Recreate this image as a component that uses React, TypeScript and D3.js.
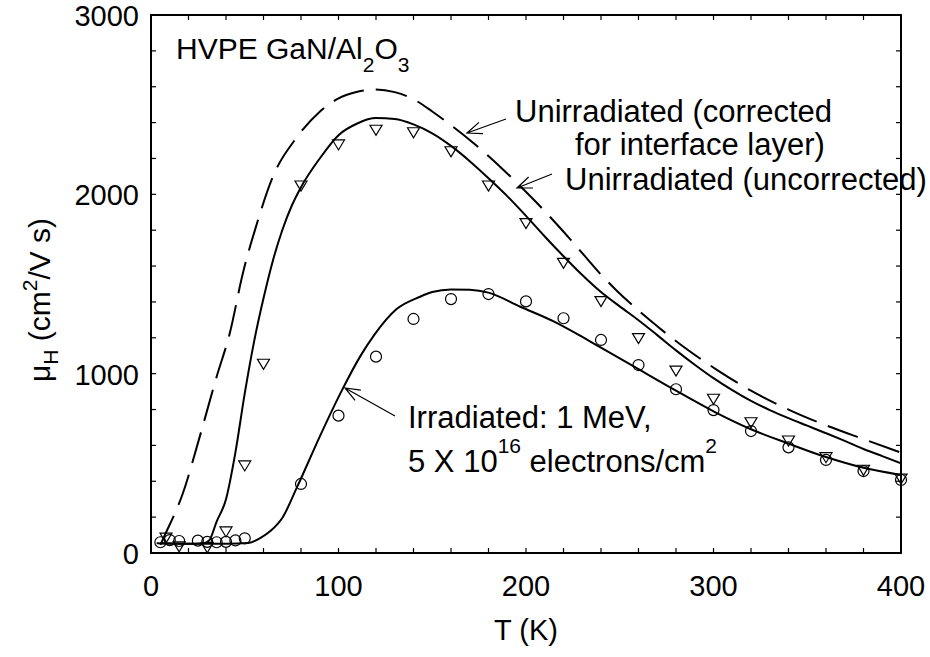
import * as d3 from "d3";
import { useEffect, useRef } from "react";

// unirradiated, corrected for interface layer (dashed)
const correctedT = [5, 7, 17, 26, 35, 42, 49, 56, 65, 78, 90, 100, 110, 120, 130, 140, 150, 160, 170, 188, 206, 224, 241, 248, 266, 284, 302, 320, 340, 360, 380, 400];
const correctedMu = [45, 91, 333, 649, 983, 1225, 1560, 1820, 2098, 2321, 2461, 2535, 2572, 2585, 2570, 2530, 2462, 2385, 2303, 2136, 1950, 1745, 1541, 1467, 1299, 1150, 1020, 905, 800, 712, 635, 560];

// unirradiated, uncorrected (solid)
const uncorrectedT = [5, 20, 28, 31, 35, 40, 45, 50, 55, 60, 65, 70, 75, 80, 90, 100, 110, 120, 130, 140, 150, 160, 170, 180, 190, 200, 210, 220, 230, 240, 250, 260, 270, 280, 290, 300, 310, 320, 330, 340, 350, 360, 370, 380, 390, 400];
const uncorrectedMu = [55, 52, 55, 70, 175, 300, 560, 890, 1180, 1420, 1630, 1800, 1935, 2040, 2200, 2330, 2395, 2425, 2420, 2390, 2340, 2270, 2185, 2090, 1990, 1880, 1765, 1655, 1550, 1455, 1375, 1298, 1215, 1130, 1050, 975, 908, 848, 797, 752, 710, 668, 625, 580, 540, 500];

// irradiated 1 MeV, 5e16 e/cm2 (solid)
const irradiatedT = [3, 20, 40, 52, 58, 64, 70, 78, 90, 101, 111.5, 119, 131, 143.5, 150, 160, 170, 180, 197, 215, 230, 240, 250, 260, 280, 300, 320, 340, 360, 380, 400];
const irradiatedMu = [54, 52, 52, 56, 82, 125, 195, 370, 649, 890, 1095, 1215, 1360, 1429, 1455, 1470, 1468, 1452, 1373, 1290, 1205, 1145, 1085, 1025, 905, 790, 690, 610, 535, 475, 435];

// measured points, unirradiated (triangles)
const triT = [8, 15, 30, 40, 50, 60, 80, 100, 120, 140, 160, 180, 200, 220, 240, 260, 280, 300, 320, 340, 360, 380, 400];
const triMu = [89, 40, 35, 123, 491, 1058, 2052, 2281, 2363, 2349, 2243, 2052, 1842, 1621, 1407, 1201, 1020, 863, 732, 630, 537, 467, 418];

// measured points, irradiated (circles)
const circT = [5, 10, 15, 25, 30, 35, 40, 45, 50, 80, 100, 120, 140, 160, 180, 200, 220, 240, 260, 280, 300, 320, 340, 360, 380, 400];
const circMu = [60, 72, 67, 69, 62, 60, 62, 70, 82, 385, 766, 1095, 1305, 1416, 1444, 1403, 1309, 1188, 1048, 913, 797, 680, 589, 519, 457, 407];

const xTickLabels = [0, 100, 200, 300, 400];
const yTickLabels = [0, 1000, 2000, 3000];

const FONT = "'Liberation Sans', Arial, Helvetica, sans-serif";

export default function App() {
    const ref = useRef<SVGSVGElement | null>(null);

    useEffect(() => {
        if (!ref.current) return;
        const svg = d3.select(ref.current);
        svg.selectAll("*").remove();

        const left = 151, right = 901, top = 15, bottom = 553;
        const x = d3.scaleLinear().domain([0, 400]).range([left, right]);
        const y = d3.scaleLinear().domain([0, 3000]).range([bottom, top]);

        const g = svg.append("g");

        // clip curves to the frame
        svg.append("defs").append("clipPath").attr("id", "plotclip")
            .append("rect").attr("x", left).attr("y", top)
            .attr("width", right - left).attr("height", bottom - top);

        const line = d3.line<[number, number]>()
            .x((d) => x(d[0]))
            .y((d) => y(d[1]))
            .curve(d3.curveMonotoneX);

        const zip = (a: number[], b: number[]) => a.map((v, i) => [v, b[i]] as [number, number]);

        const curves = g.append("g").attr("clip-path", "url(#plotclip)");
        curves.append("path").attr("d", line(zip(correctedT, correctedMu)))
            .attr("fill", "none").attr("stroke", "#000").attr("stroke-width", 2)
            .attr("stroke-dasharray", "32,12");
        curves.append("path").attr("d", line(zip(uncorrectedT, uncorrectedMu)))
            .attr("fill", "none").attr("stroke", "#000").attr("stroke-width", 2);
        curves.append("path").attr("d", line(zip(irradiatedT, irradiatedMu)))
            .attr("fill", "none").attr("stroke", "#000").attr("stroke-width", 2);

        // circles
        g.append("g").selectAll("circle")
            .data(zip(circT, circMu))
            .join("circle")
            .attr("cx", (d) => x(d[0]))
            .attr("cy", (d) => y(d[1]))
            .attr("r", 5.5)
            .attr("fill", "none")
            .attr("stroke", "#000")
            .attr("stroke-width", 1.2);

        // down triangles
        g.append("g").selectAll("path")
            .data(zip(triT, triMu))
            .join("path")
            .attr("d", (d) => {
                const cx = x(d[0]), cy = y(d[1]);
                return `M${cx - 6},${cy - 4}L${cx + 6},${cy - 4}L${cx},${cy + 6}Z`;
            })
            .attr("fill", "none")
            .attr("stroke", "#000")
            .attr("stroke-width", 1.2);

        // frame
        g.append("rect").attr("x", left).attr("y", top)
            .attr("width", right - left).attr("height", bottom - top)
            .attr("fill", "none").attr("stroke", "#000").attr("stroke-width", 2);

        // inward ticks
        const tk = 5;
        const xt = d3.range(0, 401, 20);
        const yt = d3.range(0, 3001, 200);
        const ticks = g.append("g").attr("stroke", "#000").attr("stroke-width", 1.2);
        xt.forEach((t) => {
            ticks.append("line").attr("x1", x(t)).attr("x2", x(t)).attr("y1", bottom).attr("y2", bottom - tk);
            ticks.append("line").attr("x1", x(t)).attr("x2", x(t)).attr("y1", top).attr("y2", top + tk);
        });
        yt.forEach((t) => {
            ticks.append("line").attr("y1", y(t)).attr("y2", y(t)).attr("x1", left).attr("x2", left + tk);
            ticks.append("line").attr("y1", y(t)).attr("y2", y(t)).attr("x1", right).attr("x2", right - tk);
        });

        // tick labels
        g.append("g").selectAll("text").data(xTickLabels).join("text")
            .attr("x", (d) => x(d)).attr("y", 596)
            .attr("text-anchor", "middle")
            .attr("font-family", FONT).attr("font-size", 29)
            .text((d) => d);
        g.append("g").selectAll("text").data(yTickLabels).join("text")
            .attr("x", 139).attr("y", (d) => y(d) + 11)
            .attr("text-anchor", "end")
            .attr("font-family", FONT).attr("font-size", 29)
            .text((d) => d);

        // axis titles
        g.append("text").attr("x", 526).attr("y", 640)
            .attr("text-anchor", "middle")
            .attr("font-family", FONT).attr("font-size", 29)
            .text("T (K)");

        const yl = g.append("text")
            .attr("transform", "translate(50,300) rotate(-90)")
            .attr("text-anchor", "middle")
            .attr("font-family", FONT).attr("font-size", 30);
        yl.append("tspan").text("\u03bc");
        yl.append("tspan").attr("font-size", 21).attr("dy", 8).text("H");
        yl.append("tspan").attr("dy", -8).text(" (cm");
        yl.append("tspan").attr("font-size", 21).attr("dy", -13).text("2");
        yl.append("tspan").attr("dy", 13).text("/V s)");

        // annotations
        const ann = g.append("g").attr("font-family", FONT).attr("font-size", 31);
        const t1 = ann.append("text").attr("x", 176).attr("y", 59).attr("font-size", 30);
        t1.append("tspan").text("HVPE GaN/Al");
        t1.append("tspan").attr("font-size", 21).attr("dy", 13).text("2");
        t1.append("tspan").attr("dy", -13).text("O");
        t1.append("tspan").attr("font-size", 21).attr("dy", 13).text("3");

        ann.append("text").attr("x", 515).attr("y", 122).text("Unirradiated (corrected");
        ann.append("text").attr("x", 575).attr("y", 155).text("for interface layer)");
        ann.append("text").attr("x", 565).attr("y", 190).text("Unirradiated (uncorrected)");
        ann.append("text").attr("x", 408).attr("y", 428).text("Irradiated: 1 MeV,");
        const t2 = ann.append("text").attr("x", 408).attr("y", 472);
        t2.append("tspan").text("5 X 10");
        t2.append("tspan").attr("font-size", 21).attr("dy", -19).text("16");
        t2.append("tspan").attr("dy", 19).text(" electrons/cm");
        t2.append("tspan").attr("font-size", 21).attr("dy", -19).text("2");

        // arrows (open heads)
        const arrows = [
            [506, 119, 467, 133],
            [552, 174, 517, 188],
            [395, 416, 345, 388],
        ];
        const ag = g.append("g").attr("stroke", "#000").attr("stroke-width", 1.2).attr("fill", "none");
        arrows.forEach(([x1, y1, x2, y2]) => {
            const a = Math.atan2(y1 - y2, x1 - x2);
            const L = 16, w = 0.38;
            ag.append("path").attr("d",
                `M${x1},${y1}L${x2},${y2}` +
                `M${x2 + L * Math.cos(a + w)},${y2 + L * Math.sin(a + w)}L${x2},${y2}` +
                `L${x2 + L * Math.cos(a - w)},${y2 + L * Math.sin(a - w)}`);
        });
    }, []);

    return (
        <svg
            ref={ref}
            width={930}
            height={657}
            style={{ position: "absolute", left: 0, top: 0, background: "#fff" }}
        ></svg>
    );
}
